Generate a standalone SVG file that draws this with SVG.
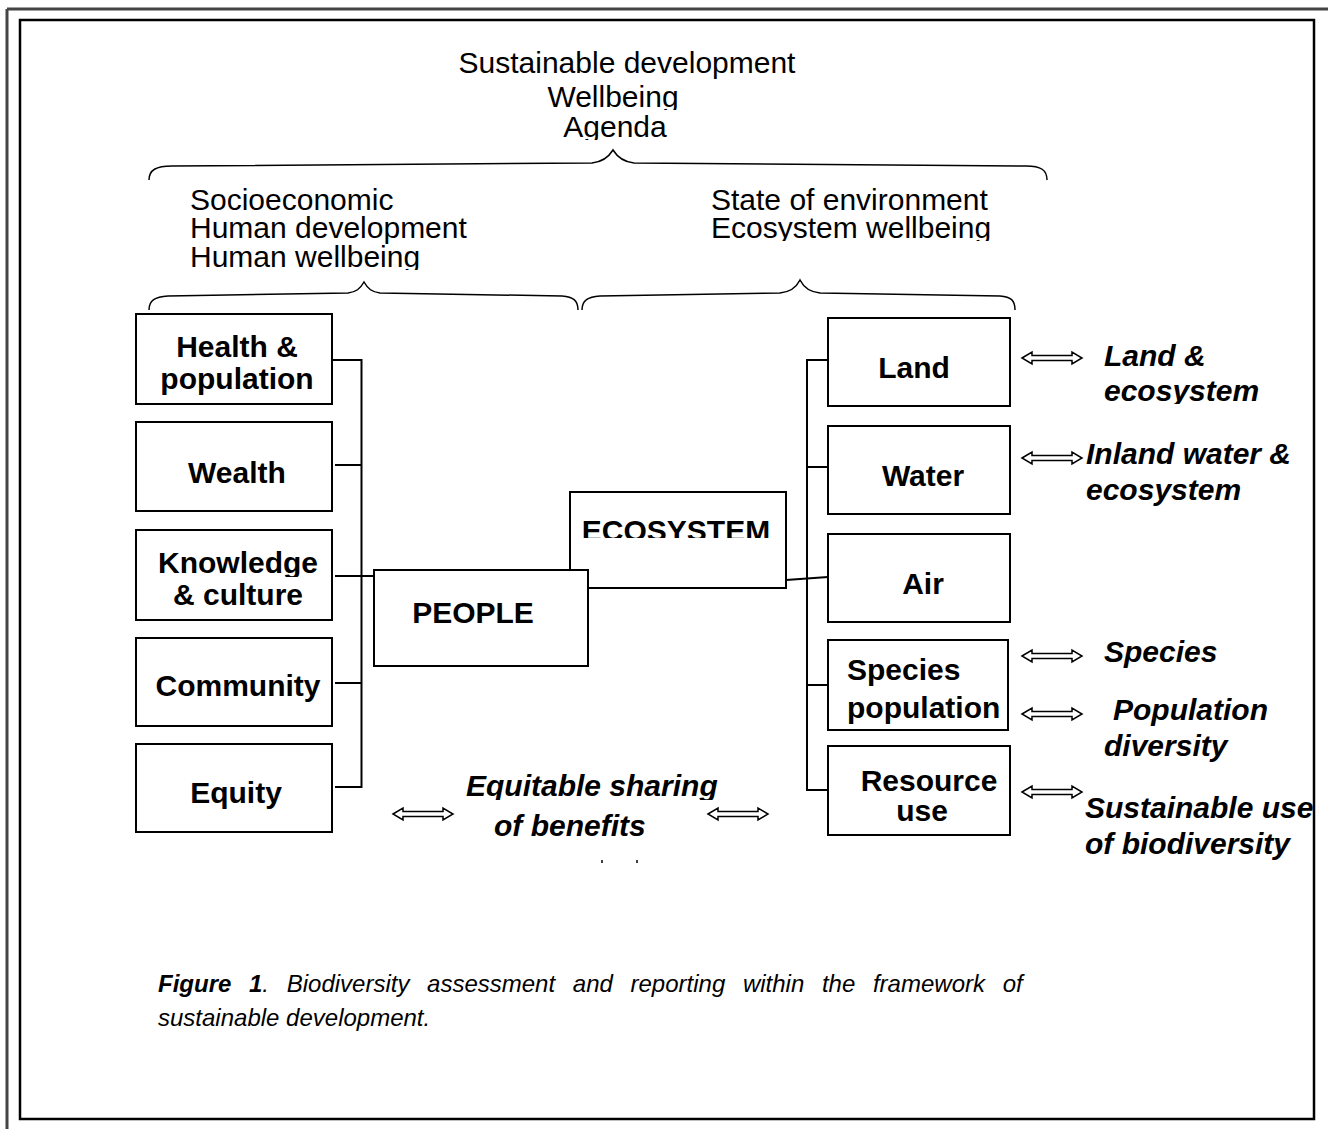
<svg xmlns="http://www.w3.org/2000/svg" width="1328" height="1129" viewBox="0 0 1328 1129">
<style>
.box{fill:#fff;stroke:#000;stroke-width:2}
.ln{fill:none;stroke:#000;stroke-width:2}
.br{fill:none;stroke:#000;stroke-width:1.5}
.t{font-family:"Liberation Sans",Arial,sans-serif;font-size:30px;fill:#000}
.b{font-family:"Liberation Sans",Arial,sans-serif;font-size:30px;font-weight:bold;fill:#000}
.bi{font-family:"Liberation Sans",Arial,sans-serif;font-size:30px;font-weight:bold;font-style:italic;fill:#000}
.cap{font-family:"Liberation Sans",Arial,sans-serif;font-size:24px;font-style:italic;fill:#000}
.arr{fill:#fff;stroke:#000;stroke-width:1.5}
</style>
<defs>
<polygon id="dbl" class="arr" points="-30,0 -20,-6 -20,-2.5 20,-2.5 20,-6 30,0 20,6 20,2.5 -20,2.5 -20,6"/>
<clipPath id="cWell"><rect x="0" y="0" width="1328" height="110"/></clipPath>
<clipPath id="cAg"><rect x="0" y="0" width="1328" height="140"/></clipPath>
<clipPath id="cHw"><rect x="0" y="0" width="1328" height="270"/></clipPath>
<clipPath id="cEw"><rect x="0" y="0" width="1328" height="241"/></clipPath>
<clipPath id="cEco"><rect x="0" y="0" width="1328" height="538"/></clipPath>
<clipPath id="cRes"><rect x="0" y="0" width="1328" height="791"/></clipPath>
<clipPath id="cLe"><rect x="0" y="0" width="1328" height="404"/></clipPath>
<clipPath id="cEq"><rect x="0" y="0" width="1328" height="800"/></clipPath>
<clipPath id="cBen"><rect x="0" y="0" width="1328" height="839"/></clipPath>
<clipPath id="cKn"><rect x="0" y="0" width="1328" height="577"/></clipPath>
<clipPath id="cIn"><rect x="0" y="0" width="1314" height="1129"/></clipPath>
</defs>

<g id="frame">
<line x1="7" y1="9" x2="1328" y2="9" stroke="#444" stroke-width="3"/>
<line x1="7" y1="9" x2="7" y2="1129" stroke="#444" stroke-width="3"/>
<rect x="20" y="20" width="1294" height="1099" fill="none" stroke="#000" stroke-width="2.5"/>
</g>

<g id="headings">
<text class="t" x="627" y="73" text-anchor="middle">Sustainable development</text>
<text class="t" x="613" y="107" text-anchor="middle" clip-path="url(#cWell)">Wellbeing</text>
<text class="t" x="615" y="137" text-anchor="middle" clip-path="url(#cAg)">Agenda</text>
<text class="t" x="190" y="210">Socioeconomic</text>
<text class="t" x="190" y="238">Human development</text>
<text class="t" x="190" y="267" clip-path="url(#cHw)">Human wellbeing</text>
<text class="t" x="711" y="210">State of environment</text>
<text class="t" x="711" y="238" clip-path="url(#cEw)">Ecosystem wellbeing</text>
</g>

<g id="braces">
<path class="br" d="M149,180 C149,170 156,166 172,166 L592,163 C602,162 608,158 613,150 C618,158 624,162 634,163 L1026,166 C1041,166 1047,170 1047,180"/>
<path class="br" d="M149,310 C149,300 155,297 168,296 L348,293 C356,292 360,289 364,282 C368,289 372,292 380,293 L562,296 C573,297 578,300 578,310"/>
<path class="br" d="M582,310 C582,300 588,297 600,296 L780,293 C790,292 796,288 800,280 C804,288 810,292 820,293 L1000,296 C1011,297 1015,300 1015,310"/>
</g>

<g id="connectors">
<line class="ln" x1="361.5" y1="359" x2="361.5" y2="788"/>
<line class="ln" x1="332" y1="360" x2="362" y2="360"/>
<line class="ln" x1="335" y1="465" x2="362" y2="465"/>
<line class="ln" x1="335" y1="576" x2="375" y2="576"/>
<line class="ln" x1="335" y1="683" x2="362" y2="683"/>
<line class="ln" x1="335" y1="787" x2="362" y2="787"/>
<line class="ln" x1="807" y1="359" x2="807" y2="791"/>
<line class="ln" x1="806" y1="360" x2="828" y2="360"/>
<line class="ln" x1="806" y1="467" x2="828" y2="467"/>
<line class="ln" x1="806" y1="685" x2="828" y2="685"/>
<line class="ln" x1="806" y1="790" x2="828" y2="790"/>
<line class="ln" x1="786" y1="580" x2="828" y2="577"/>
</g>

<g id="n-health"><rect class="box" x="136" y="314" width="196" height="90"/>
<text class="b" x="237" y="357" text-anchor="middle">Health &amp;</text>
<text class="b" x="237" y="389" text-anchor="middle">population</text></g>
<g id="n-wealth"><rect class="box" x="136" y="422" width="196" height="89"/>
<text class="b" x="237" y="483" text-anchor="middle">Wealth</text></g>
<g id="n-knowledge"><rect class="box" x="136" y="530" width="196" height="90"/>
<text class="b" x="238" y="573" text-anchor="middle" clip-path="url(#cKn)">Knowledge</text>
<text class="b" x="238" y="605" text-anchor="middle">&amp; culture</text></g>
<g id="n-community"><rect class="box" x="136" y="638" width="196" height="88"/>
<text class="b" x="238" y="696" text-anchor="middle">Community</text></g>
<g id="n-equity"><rect class="box" x="136" y="744" width="196" height="88"/>
<text class="b" x="236" y="803" text-anchor="middle">Equity</text></g>

<g id="n-ecosystem"><rect class="box" x="570" y="492" width="216" height="96"/>
<text class="b" x="676" y="541" text-anchor="middle" clip-path="url(#cEco)">ECOSYSTEM</text></g>
<g id="n-people"><rect class="box" x="374" y="570" width="214" height="96"/>
<text class="b" x="473" y="623" text-anchor="middle">PEOPLE</text></g>

<g id="n-land"><rect class="box" x="828" y="318" width="182" height="88"/>
<text class="b" x="914" y="378" text-anchor="middle">Land</text></g>
<g id="n-water"><rect class="box" x="828" y="426" width="182" height="88"/>
<text class="b" x="923" y="486" text-anchor="middle">Water</text></g>
<g id="n-air"><rect class="box" x="828" y="534" width="182" height="88"/>
<text class="b" x="923" y="594" text-anchor="middle">Air</text></g>
<g id="n-species"><rect class="box" x="828" y="640" width="180" height="90"/>
<text class="b" x="847" y="680">Species</text>
<text class="b" x="847" y="718">population</text></g>
<g id="n-resource"><rect class="box" x="828" y="746" width="182" height="89"/>
<text class="b" x="929" y="791" text-anchor="middle" clip-path="url(#cRes)">Resource</text>
<text class="b" x="922" y="821" text-anchor="middle">use</text></g>

<g id="arrows">
<use href="#dbl" x="1052" y="358"/>
<use href="#dbl" x="1052" y="458"/>
<use href="#dbl" x="1052" y="656"/>
<use href="#dbl" x="1052" y="714"/>
<use href="#dbl" x="1052" y="792"/>
<use href="#dbl" x="423" y="814"/>
<use href="#dbl" x="738" y="814"/>
</g>

<g id="labels">
<text class="bi" x="1104" y="366">Land &amp;</text>
<text class="bi" x="1104" y="401" clip-path="url(#cLe)">ecosystem</text>
<text class="bi" x="1086" y="464">Inland water &amp;</text>
<text class="bi" x="1086" y="500">ecosystem</text>
<text class="bi" x="1104" y="662">Species</text>
<text class="bi" x="1113" y="720">Population</text>
<text class="bi" x="1104" y="756">diversity</text>
<text class="bi" x="1085" y="818" clip-path="url(#cIn)">Sustainable use</text>
<text class="bi" x="1085" y="854">of biodiversity</text>
<text class="bi" x="466" y="796" clip-path="url(#cEq)">Equitable sharing</text>
<text class="bi" x="494" y="836" clip-path="url(#cBen)">of benefits</text>
<line x1="602" y1="860" x2="602" y2="863" stroke="#000" stroke-width="1.5"/>
<line x1="637" y1="860" x2="637" y2="863" stroke="#000" stroke-width="1.5"/>
</g>

<g id="caption">
<text class="cap" x="158" y="992" word-spacing="11"><tspan font-weight="bold">Figure 1</tspan>. Biodiversity assessment and reporting within the framework of</text>
<text class="cap" x="158" y="1026">sustainable development.</text>
</g>
</svg>
